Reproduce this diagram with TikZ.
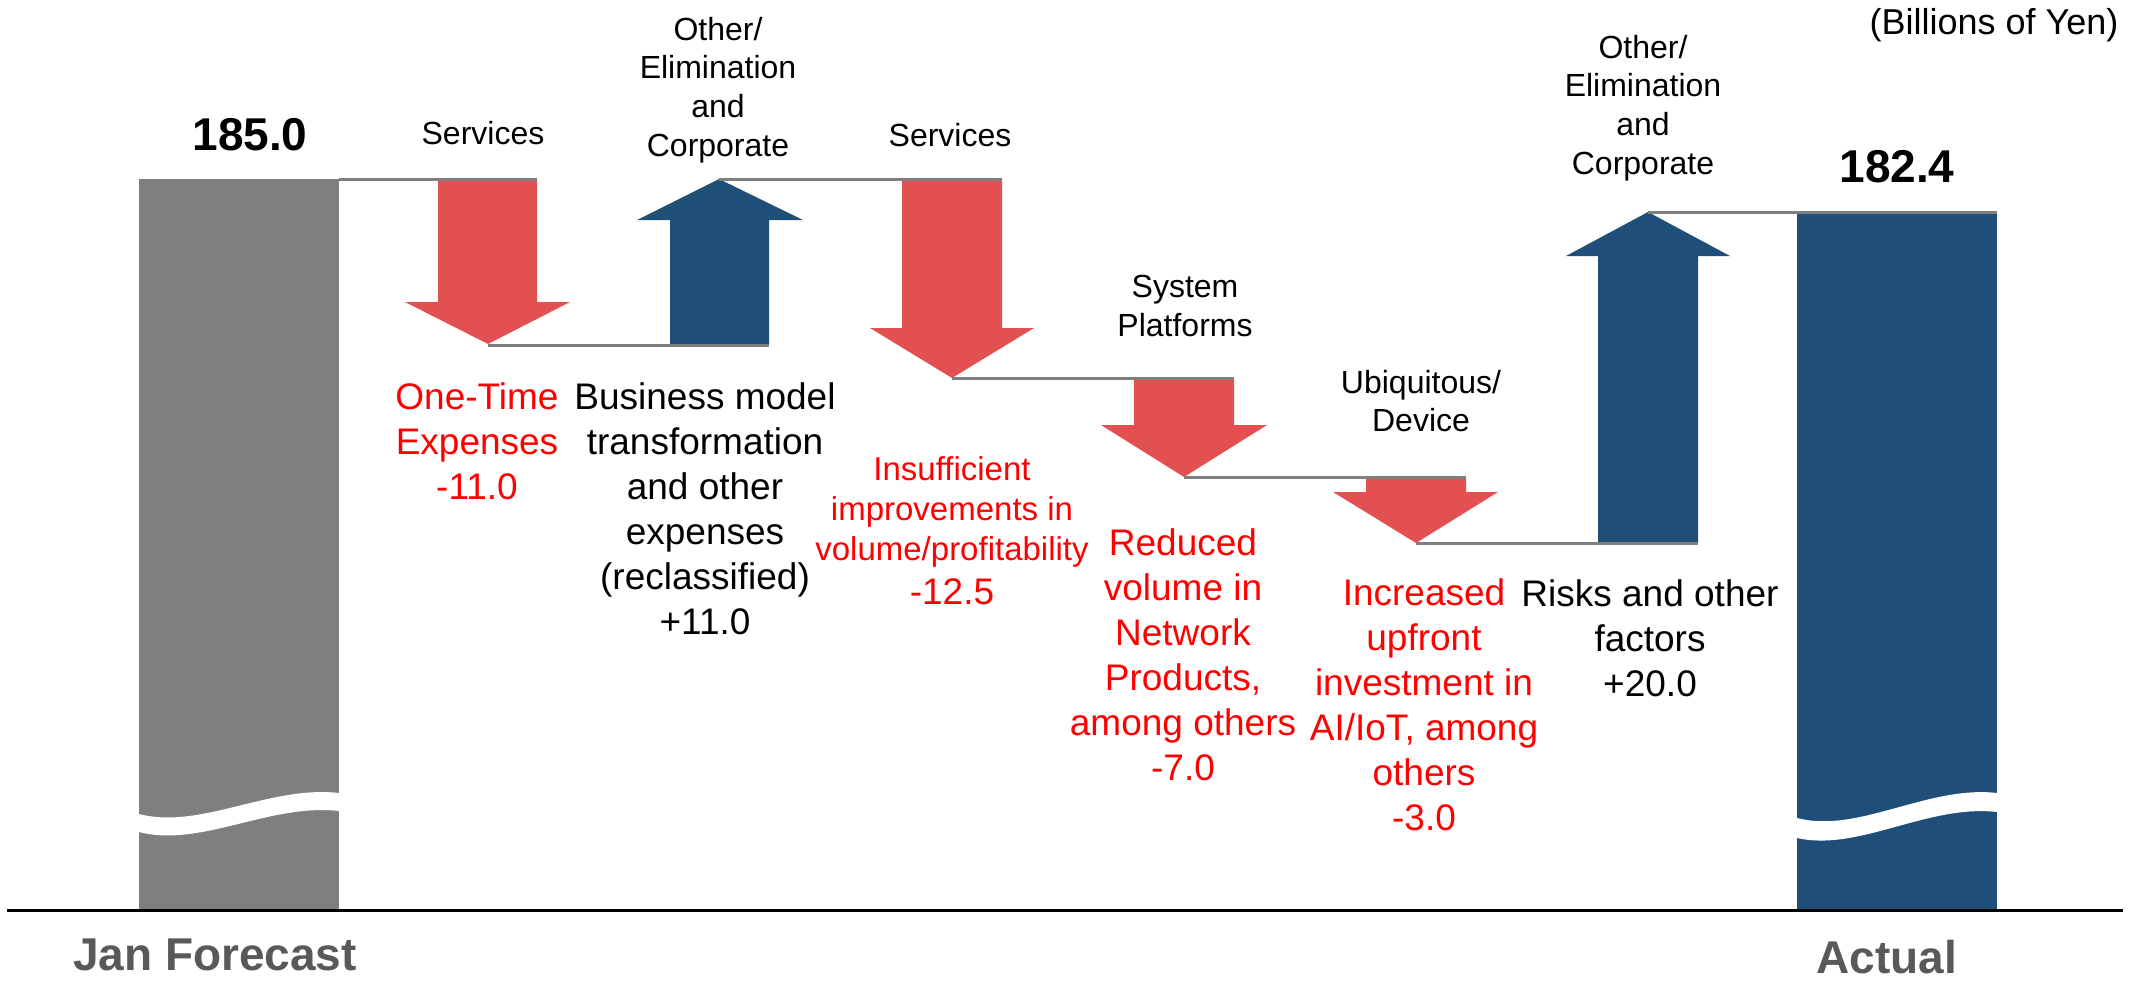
\documentclass[tikz,border=0pt]{standalone}
\usepackage{fontspec}
\setmainfont{Liberation Sans}
\usepackage{xcolor}
\definecolor{loss-red}{RGB}{227,80,81}
\definecolor{gain-blue}{RGB}{31,78,121}
\definecolor{bar-gray}{RGB}{127,127,127}
\definecolor{name-gray}{RGB}{89,89,89}
\tikzset{
    down-arrow/.style = {fill=loss-red},
    up-arrow/.style = {fill=gain-blue},
    step-line/.style = {draw=bar-gray, line width=1.5pt},
    axis-line/.style = {draw=black, line width=1.5pt},
    segment-title/.style = {align=center, inner sep=0pt, font=\fontsize{16}{19.3}\selectfont},
    loss-text/.style = {align=center, inner sep=0pt, text=red, font=\fontsize{18.5}{22.5}\selectfont},
    gain-text/.style = {align=center, inner sep=0pt, font=\fontsize{18.5}{22.5}\selectfont},
    total-value/.style = {inner sep=0pt, font=\fontsize{23}{27}\selectfont\bfseries},
    total-name/.style = {inner sep=0pt, text=name-gray, font=\fontsize{23}{27}\selectfont\bfseries},
}

\begin{document}
\begin{tikzpicture}[x=0.5pt, y=-0.5pt]
\useasboundingbox (0,0) rectangle (2134,985);

% start and end bars, with the axis break
\fill[bar-gray] (139,179) rectangle (339,910);
\fill[gain-blue] (1797,212) rectangle (1997,910);
\fill[white] (139,814) .. controls (200,830) and (270,785) .. (339,793) -- (339,811) .. controls (270,803) and (200,848) .. (139,832) -- cycle;
\fill[white] (1797,818) .. controls (1858,834) and (1928,785) .. (1997,793) -- (1997,812) .. controls (1928,804) and (1858,852) .. (1797,838) -- cycle;

% arrows
\fill[down-arrow] (438,179) -- (537,179) -- (537,302) -- (570,302) -- (488,344) -- (405,302) -- (438,302) -- cycle;
\fill[up-arrow] (670,345) -- (769,345) -- (769,220) -- (803,220) -- (719,179) -- (637,220) -- (670,220) -- cycle;
\fill[down-arrow] (902,179) -- (1002,179) -- (1002,328) -- (1034,328) -- (952,378) -- (870,328) -- (902,328) -- cycle;
\fill[down-arrow] (1134,378) -- (1234,378) -- (1234,425) -- (1267,425) -- (1184,477) -- (1101,425) -- (1134,425) -- cycle;
\fill[down-arrow] (1366,477) -- (1466,477) -- (1466,492) -- (1498,492) -- (1416,543) -- (1333,492) -- (1366,492) -- cycle;
\fill[up-arrow] (1598,543) -- (1698,543) -- (1698,256) -- (1730,256) -- (1648,212) -- (1566,256) -- (1598,256) -- cycle;

\coordinate (jan-right) at (339,179);
\coordinate (a1-right) at (537,179);
\coordinate (a1-tip) at (488,345);
\coordinate (a2-right) at (769,345);
\coordinate (a2-tip) at (719,179);
\coordinate (a3-right) at (1002,179);
\coordinate (a3-tip) at (952,378);
\coordinate (a4-right) at (1234,378);
\coordinate (a4-tip) at (1184,477);
\coordinate (a5-right) at (1466,477);
\coordinate (a5-tip) at (1416,543);
\coordinate (a6-right) at (1698,543);
\coordinate (a6-tip) at (1648,212);
\coordinate (act-right) at (1997,212);
\coordinate (axis-left) at (7,910);
\coordinate (axis-right) at (2123,910);

\draw[step-line] (jan-right) -- (a1-right);
\draw[step-line] (a1-tip) -- (a2-right);
\draw[step-line] (a2-tip) -- (a3-right);
\draw[step-line] (a3-tip) -- (a4-right);
\draw[step-line] (a4-tip) -- (a5-right);
\draw[step-line] (a5-tip) -- (a6-right);
\draw[step-line] (a6-tip) -- (act-right);
\draw[axis-line] (axis-left) -- (axis-right);

% totals
\node[total-value] (jan-value) at (250,135) {185.0};
\node[total-value] (act-value) at (1897,167) {182.4};
\node[total-name] (jan-name) at (215,955) {Jan Forecast};
\node[total-name] (act-name) at (1887,957) {Actual};
\node[segment-title, font=\fontsize{18}{21}\selectfont] (unit) at (1994,25) {(Billions of Yen)};

% segment names
\node[segment-title] (seg1) at (483,133) {Services};
\node[segment-title] (seg2) at (718,90) {Other/\\Elimination\\and\\Corporate};
\node[segment-title] (seg3) at (950,135) {Services};
\node[segment-title] (seg4) at (1185,306) {System\\Platforms};
\node[segment-title] (seg5) at (1421,401) {Ubiquitous/\\Device};
\node[segment-title] (seg6) at (1643,108) {Other/\\Elimination\\and\\Corporate};

% reasons
\node[loss-text] (why1) at (477,441) {One-Time\\Expenses\\-11.0};
\node[gain-text] (why2) at (705,509) {Business model\\transformation\\and other\\expenses\\(reclassified)\\+11.0};
\node[loss-text, font=\fontsize{16.5}{20}\selectfont] (why3) at (952,531) {Insufficient\\improvements in\\volume/profitability\\[2pt]{\fontsize{18.5}{22}\selectfont -12.5}};
\node[loss-text] (why4) at (1183,655) {Reduced\\volume in\\Network\\Products,\\among others\\-7.0};
\node[loss-text] (why5) at (1424,705) {Increased\\upfront\\investment in\\AI/IoT, among\\others\\-3.0};
\node[gain-text] (why6) at (1650,638) {Risks and other\\factors\\+20.0};
\end{tikzpicture}
\end{document}
